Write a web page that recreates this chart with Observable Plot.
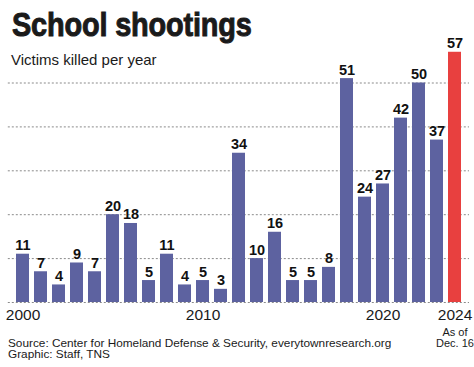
<!DOCTYPE html>
<html>
<head>
<meta charset="utf-8">
<script src="https://cdn.jsdelivr.net/npm/d3@7"></script>
<script src="https://cdn.jsdelivr.net/npm/@observablehq/plot@0.6"></script>
<style>
  html, body { margin: 0; padding: 0; background: #fff; }
  #wrap { position: relative; width: 474px; height: 367px; overflow: hidden; font-family: "Liberation Sans", Arial, Helvetica, sans-serif; color: #1a1a1a; }
  #wrap svg { position: absolute; left: 0; top: 0; }
  .title { position: absolute; left: 12px; top: 7px; font-size: 34px; line-height: 1; font-weight: bold; white-space: nowrap; transform: scaleX(0.85); transform-origin: 0 0; -webkit-text-stroke: 1px #1a1a1a; letter-spacing: -0.2px; }
  .subtitle { position: absolute; left: 11px; top: 52.3px; font-size: 15px; line-height: 1; white-space: nowrap; }
  .caption { position: absolute; left: 8px; font-size: 11.8px; line-height: 11px; height: 11px; white-space: nowrap; }
  .c1 { top: 337.5px; }
  .c2 { top: 348.5px; }
</style>
</head>
<body>
<div id="wrap">
  <div class="title">School shootings</div>
  <div class="subtitle">Victims killed per year</div>
  <div class="caption c1">Source: Center for Homeland Defense &amp; Security, everytownresearch.org</div>
  <div class="caption c2">Graphic: Staff, TNS</div>
</div>
<script>
const years = [2000, 2001, 2002, 2003, 2004, 2005, 2006, 2007, 2008, 2009, 2010, 2011, 2012,
               2013, 2014, 2015, 2016, 2017, 2018, 2019, 2020, 2021, 2022, 2023, 2024];
const killed = [11, 7, 4, 9, 7, 20, 18, 5, 11, 4, 5, 3, 34,
                10, 16, 5, 5, 8, 51, 24, 27, 42, 50, 37, 57];
const gridValues = [0, 10, 20, 30, 40, 50];
const tickYears = [2000, 2010, 2020, 2024];
const highlightYear = 2024;
const noteYear = 2024;
const noteText = "As of\nDec. 16";

const data = years.map((year, i) => ({year, killed: killed[i]}));

const chart = Plot.plot({
  width: 474,
  height: 367,
  marginTop: 38.6,
  marginBottom: 65,
  marginLeft: 7.8,
  marginRight: 5,
  style: {fontFamily: '"Liberation Sans", Arial, Helvetica, sans-serif', color: "#1a1a1a", background: "transparent"},
  x: {type: "band", domain: years, padding: 0.27, axis: null, label: null},
  y: {domain: [0, 60], axis: null, label: null},
  marks: [
    Plot.ruleY(gridValues, {stroke: "#8a8a8a", strokeWidth: 1, strokeDasharray: "2,2"}),
    Plot.barY(data, {x: "year", y: "killed", fill: d => d.year === highlightYear ? "#e8403f" : "#5d62a0"}),
    Plot.text(data, {x: "year", y: "killed", text: d => String(d.killed), lineAnchor: "bottom", dy: -4, fontSize: 14.5, fontWeight: "bold", fill: "#111"}),
    Plot.axisX({ticks: tickYears, tickSize: 0, tickPadding: 6, fontSize: 15.5, tickFormat: d => String(d), fill: "#1a1a1a", label: null}),
    Plot.text([{year: noteYear}], {x: "year", y: () => 0, text: () => noteText, lineAnchor: "top", dy: 26.2, fontSize: 11, lineHeight: 0.97, fill: "#1a1a1a"})
  ]
});
document.getElementById("wrap").prepend(chart);
</script>
</body>
</html>
